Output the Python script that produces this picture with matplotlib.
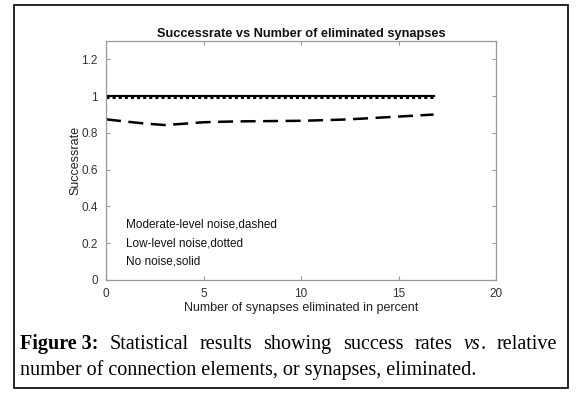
import matplotlib
matplotlib.use('Agg')
import matplotlib.pyplot as plt
from matplotlib.patches import Rectangle

# eliminated synapses in percent
pct = [0, 1, 2, 3, 4, 5, 6, 7, 8, 9, 10, 11, 12, 13, 14, 15, 16, 16.8]
no_noise = [1.0] * len(pct)
low_noise = [0.995] * len(pct)
moderate_noise = [0.874, 0.862, 0.851, 0.843, 0.850, 0.858, 0.861, 0.863, 0.864,
                  0.865, 0.866, 0.869, 0.872, 0.877, 0.883, 0.889, 0.895, 0.900]

labels = ['Moderate-level noise,dashed', 'Low-level noise,dotted', 'No noise,solid']
label_y = [0.3, 0.2, 0.1]

caption_1 = ['Statistical', 'results', 'showing', 'success', 'rates']
caption_2 = 'number of connection elements, or synapses, eliminated.'

W, H = 580, 397
fig = plt.figure(figsize=(W / 100, H / 100), dpi=100)
plt.rcParams['font.family'] = 'Liberation Sans'

ax = fig.add_axes([106 / W, 1 - 280 / H, 390 / W, 239 / H])
ax.plot(pct, no_noise, color='black', lw=1.6, linestyle='-')
ax.plot(pct, low_noise, color='black', lw=2.2, linestyle=(0, (1, 1)))
ax.plot(pct, moderate_noise, color='black', lw=1.8, linestyle=(0, (6, 3)))

for t, yy in zip(labels, label_y):
    ax.text(1, yy, t, fontsize=8.5, va='center', ha='left', color='#111111')

ax.set_xlim(0, 20)
ax.set_ylim(0, 1.3)
ax.set_xticks([0, 5, 10, 15, 20])
ax.set_yticks([0, 0.2, 0.4, 0.6, 0.8, 1, 1.2])
ax.set_yticklabels(['0', '0.2', '0.4', '0.6', '0.8', '1', '1.2'])
ax.tick_params(direction='in', top=True, right=True, length=3, width=0.8,
               labelsize=8.5, colors='#999999', labelcolor='#333333', pad=6)
for s in ax.spines.values():
    s.set_color('#999999')
    s.set_linewidth(0.9)
ax.set_title('Successrate vs Number of eliminated synapses', fontsize=9.2,
             fontweight='bold', pad=3, color='#111111')
ax.set_xlabel('Number of synapses eliminated in percent', fontsize=9, color='#222222', labelpad=1)
ax.set_ylabel('Successrate', fontsize=9, color='#222222', labelpad=0)

# outer frame
fig.patches.append(Rectangle((14 / W, 1 - 388 / H), 554 / W, 383 / H,
                             transform=fig.transFigure, fill=False,
                             edgecolor='black', lw=1.2))

# caption, first line justified
fs = 14.5
r = fig.canvas.get_renderer()
y1 = 1 - 349 / H
y2 = 1 - 375 / H
words = [[('Figure 3:', 'bold', 'normal')]] + [[(w, 'normal', 'normal')] for w in caption_1] \
    + [[('vs', 'normal', 'italic'), ('.', 'normal', 'normal')], [('relative', 'normal', 'normal')]]
items = []
total = 0
for word in words:
    pieces = []
    wsum = 0
    for w, fw, st in word:
        t = fig.text(0, y1, w, fontsize=fs, family='Liberation Serif', fontweight=fw,
                     fontstyle=st, va='baseline', ha='left')
        ext = t.get_window_extent(r).width
        pieces.append((t, ext))
        wsum += ext
    items.append(pieces)
    total += wsum
left, right = 20, 557
gap = (right - left - total) / (len(words) - 1)
x = left
for pieces in items:
    for t, ext in pieces:
        t.set_x(x / W)
        x += ext
    x += gap
fig.text(20 / W, y2, caption_2, fontsize=fs, family='Liberation Serif', va='baseline', ha='left')

fig.savefig('out.png', dpi=100)
